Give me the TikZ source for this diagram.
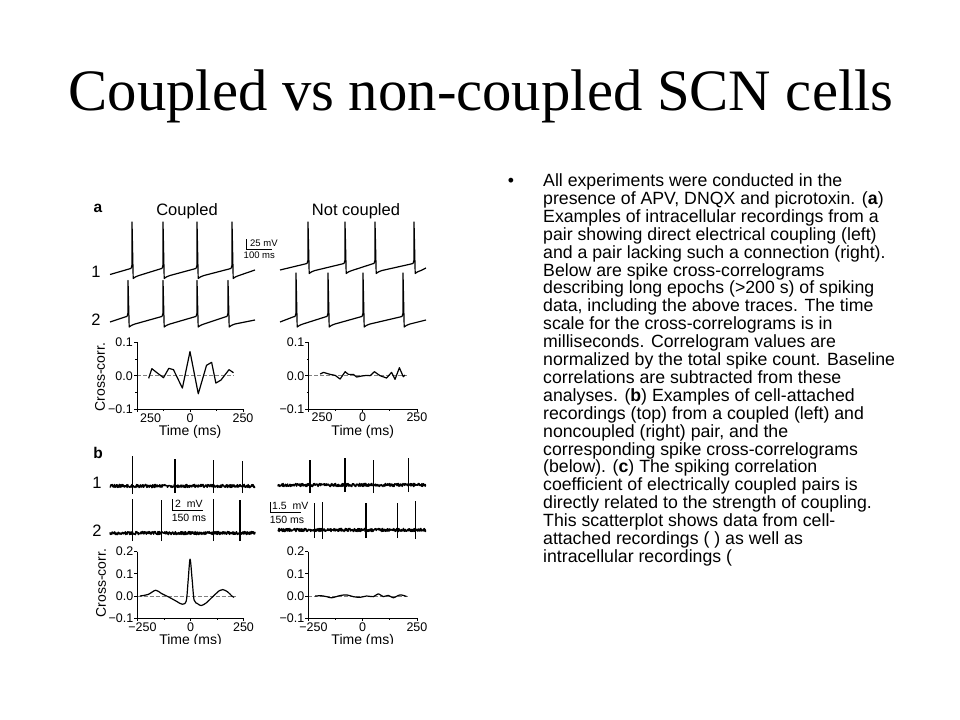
\documentclass[tikz,border=0pt]{standalone}
\usepackage{fontspec}
\setmainfont{Liberation Serif}
\setsansfont{Liberation Sans}
\usetikzlibrary{positioning}

\begin{document}
\begin{tikzpicture}[x=1bp,y=-1bp]
    \tikzstyle{every node}=[inner sep=0pt]
    \tikzstyle{trace}=[line width=1.2bp,line join=round]
    \tikzstyle{unit}=[line width=1.4bp,line join=round]
    \tikzstyle{axis}=[line width=0.8bp]
    \tikzstyle{zeroline}=[gray,line width=0.8bp,dash pattern=on 4bp off 2bp]
    \tikzstyle{figlab}=[font=\fontsize{16.5bp}{18bp}\sffamily]
    \tikzstyle{axlab}=[font=\fontsize{14bp}{16bp}\sffamily]
    \tikzstyle{ticklab}=[font=\fontsize{12.5bp}{14bp}\sffamily]
    \tikzstyle{barlab}=[font=\fontsize{9.5bp}{10bp}\sffamily]
    \tikzstyle{bodytext}=[font=\fontsize{17.7bp}{17.9bp}\sffamily]

    % one action potential: threshold, peak, after-hyperpolarisation
    \newcommand{\apspike}[4]{-- (#1-3,#2) .. controls (#1-1,#2) .. (#1,#2-4)
        -- (#1,#3) -- (#1+1.2,#4) .. controls (#1+3,#4-1.5) .. (#1+7,#4-3)}

    \fill[white] (0,0) rectangle (960,720);
    \useasboundingbox (0,0) rectangle (960,720);

    % Title
    \node [font=\fontsize{58.7bp}{60bp}\selectfont,anchor=base] at (481,111) (title)
        {Coupled vs non-coupled SCN cells};

    % Bullet text
    \node [bodytext,anchor=base] at (511,186.5) (bullet) {•};
    \node [bodytext,anchor=north west,align=left] at (543,173.5) (body)
        {All experiments were conducted in the\\
         presence of APV, DNQX and picrotoxin. (\textbf{a})\\
         Examples of intracellular recordings from a\\
         pair showing direct electrical coupling (left)\\
         and a pair lacking such a connection (right).\\
         Below are spike cross-correlograms\\
         describing long epochs (>200 s) of spiking\\
         data, including the above traces. The time\\
         scale for the cross-correlograms is in\\
         milliseconds. Correlogram values are\\
         normalized by the total spike count. Baseline\\
         correlations are subtracted from these\\
         analyses. (\textbf{b}) Examples of cell-attached\\
         recordings (top) from a coupled (left) and\\
         noncoupled (right) pair, and the\\
         corresponding spike cross-correlograms\\
         (below). (\textbf{c}) The spiking correlation\\
         coefficient of electrically coupled pairs is\\
         directly related to the strength of coupling.\\
         This scatterplot shows data from cell-\\
         attached recordings ( ) as well as\\
         intracellular recordings (};

    \begin{scope}
    \clip (88,190) rectangle (426,643);

    % Panel a: intracellular recordings
    \node [figlab,font=\fontsize{15.5bp}{17bp}\sffamily\bfseries] at (98,208) (lab-a) {a};
    \node [figlab] at (187,211) (head-coupled) {Coupled};
    \node [figlab] at (356,211) (head-notcoupled) {Not coupled};
    \node [figlab] at (96,272) (cell-a1) {1};
    \node [figlab] at (96,320) (cell-a2) {2};

    \draw[trace] (110,274.5) \apspike{132}{269}{222}{278.5} \apspike{163}{269}{222}{278.5}
        \apspike{197}{269}{222}{278.5} \apspike{232}{269}{222}{278.5} -- (255,270);
    \draw[trace] (110,322) \apspike{128}{317}{280.5}{327} \apspike{163}{317}{280.5}{327}
        \apspike{197}{317}{280.5}{327} \apspike{228}{317}{280.5}{327} -- (255,320);
    \draw[trace] (280,270) \apspike{308}{264}{222}{273.5} \apspike{345}{264}{222}{273.5}
        \apspike{375}{264}{222}{273.5} \apspike{414}{264}{222}{273.5} -- (426,268);
    \draw[trace] (280,322) \apspike{296}{317}{273}{327} \apspike{328}{317}{273}{327}
        \apspike{363}{317}{273}{327} \apspike{403}{317}{273}{327} -- (426,320);

    % scale bar
    \draw[axis] (246.7,239.3) -- (246.7,249.3) -- (271.7,249.3);
    \node [barlab,anchor=west] at (250,243) (bar-a-mv) {25 mV};
    \node [barlab] at (259.3,255.5) (bar-a-ms) {100 ms};

    % cross-correlograms (a)
    \node [axlab,rotate=90] at (100,377) (ylab-a) {Cross-corr.};
    \begin{scope}[shift={(190,375.7)},x=0.212bp,y=335bp]
        \draw[zeroline] (-250,0) -- (205,0);
        \draw[axis] (-250,0.1) -- (-250,-0.1) -- (250,-0.1)
            (-250,0.1) -- +(-3bp,0bp) (-250,0) -- +(-3bp,0bp) (-250,-0.1) -- +(-3bp,0bp)
            (-250,0.05) -- +(-1.5bp,0bp) (-250,-0.05) -- +(-1.5bp,0bp)
            (-250,-0.1) -- +(0bp,-3bp) (0,-0.1) -- +(0bp,-3bp) (250,-0.1) -- +(0bp,-3bp)
            (-125,-0.1) -- +(0bp,-1.5bp) (125,-0.1) -- +(0bp,-1.5bp);
        \draw[trace] plot coordinates {(-195,-0.008) (-180,0.021) (-156,0.009) (-125,-0.006)
            (-100,0.022) (-78,0.018) (-36,-0.037) (0,0.072) (39,-0.054) (78,0.031)
            (102,0.040) (122,-0.022) (146,-0.013) (184,0.018) (205,0.009)};
        \node [ticklab,anchor=east] at ([xshift=-4bp]-250,0.1) (ya1-top) {0.1};
        \node [ticklab,anchor=east] at ([xshift=-4bp]-250,0) (ya1-mid) {0.0};
        \node [ticklab,anchor=east] at ([xshift=-4bp]-250,-0.1) (ya1-bot) {−0.1};
        \node [ticklab,anchor=north west] at ([xshift=3bp,yshift=-4bp]-250,-0.1) (xa1-left) {250};
        \node [ticklab,anchor=north] at ([yshift=-4bp]0,-0.1) (xa1-mid) {0};
        \node [ticklab,anchor=north] at ([yshift=-4bp]250,-0.1) (xa1-right) {250};
        \node [axlab,below=2.5bp of xa1-mid] (time-a1) {Time (ms)};
    \end{scope}
    \begin{scope}[shift={(362.7,375.7)},x=0.217bp,y=333bp]
        \draw[zeroline] (-250,0) -- (205,0);
        \draw[axis] (-250,0.1) -- (-250,-0.1) -- (250,-0.1)
            (-250,0.1) -- +(-3bp,0bp) (-250,0) -- +(-3bp,0bp) (-250,-0.1) -- +(-3bp,0bp)
            (-250,0.05) -- +(-1.5bp,0bp) (-250,-0.05) -- +(-1.5bp,0bp)
            (-250,-0.1) -- +(0bp,-3bp) (0,-0.1) -- +(0bp,-3bp) (250,-0.1) -- +(0bp,-3bp)
            (-125,-0.1) -- +(0bp,-1.5bp) (125,-0.1) -- +(0bp,-1.5bp);
        \draw[trace] plot coordinates {(-196,0.005) (-181,0.010) (-150,0.004) (-127,0.001)
            (-104,-0.010) (-81,0.012) (-66,0.004) (-43,0.004) (-28,-0.004) (-5,-0.001)
            (18,0.001) (34,0) (54,0.012) (80,0) (110,-0.007) (133,0.010) (149,-0.011)
            (169,0.024) (179,0.009) (187,-0.003) (195,0.002)};
        \node [ticklab,anchor=east] at ([xshift=-4bp]-250,0.1) (ya2-top) {0.1};
        \node [ticklab,anchor=east] at ([xshift=-4bp]-250,0) (ya2-mid) {0.0};
        \node [ticklab,anchor=east] at ([xshift=-4bp]-250,-0.1) (ya2-bot) {−0.1};
        \node [ticklab,anchor=north west] at ([xshift=3bp,yshift=-4bp]-250,-0.1) (xa2-left) {250};
        \node [ticklab,anchor=north] at ([yshift=-4bp]0,-0.1) (xa2-mid) {0};
        \node [ticklab,anchor=north] at ([yshift=-4bp]250,-0.1) (xa2-right) {250};
        \node [axlab,below=2.5bp of xa2-mid] (time-a2) {Time (ms)};
    \end{scope}

    % Panel b: cell-attached recordings
    \node [figlab,font=\fontsize{15.5bp}{17bp}\sffamily\bfseries] at (98,453) (lab-b) {b};
    \node [figlab] at (97,483) (cell-b1) {1};
    \node [figlab] at (97,531) (cell-b2) {2};

    \pgfmathsetseed{3}
    \draw[unit] plot[domain=110:255,samples=400] (\x,{486+1.6*rand});
    \draw[unit] (132.7,494) -- (132.7,456) (175,493) -- (175,459)
        (213.3,493) -- (213.3,460) (242.7,493) -- (242.7,460.5);
    \draw[unit] plot[domain=110:255,samples=400] (\x,{533+1.6*rand});
    \draw[unit] (132.7,541) -- (132.7,499) (161.7,541) -- (161.7,500)
        (213.3,541) -- (213.3,499) (240,541) -- (240,500);
    \draw[unit] plot[domain=278:426,samples=400] (\x,{485+1.6*rand});
    \draw[unit] (310,493) -- (310,460) (345,492) -- (345,458)
        (373.3,493) -- (373.3,460) (408.3,492) -- (408.3,458);
    \draw[unit] plot[domain=278:426,samples=400] (\x,{530+1.6*rand});
    \draw[unit] (314.3,538) -- (314.3,503) (322.7,539) -- (322.7,502) (366,538) -- (366,503)
        (397.7,538) -- (397.7,503) (415.3,539) -- (415.3,501);

    % scale bars
    \draw[axis] (172.7,499) -- (172.7,510) -- (203.3,510);
    \node [barlab,font=\fontsize{10.5bp}{11bp}\sffamily,anchor=west] at (175,503.5) (bar-b1-mv) {2\ \ mV};
    \node [barlab,font=\fontsize{10.5bp}{11bp}\sffamily] at (189,517.5) (bar-b1-ms) {150 ms};
    \draw[axis] (270,502) -- (270,512) -- (300.7,512);
    \node [barlab,font=\fontsize{10.5bp}{11bp}\sffamily,anchor=west] at (272,506) (bar-b2-mv) {1.5\ \ mV};
    \node [barlab,font=\fontsize{10.5bp}{11bp}\sffamily] at (287,519.5) (bar-b2-ms) {150 ms};

    % cross-correlograms (b)
    \node [axlab,rotate=90] at (101,583) (ylab-b) {Cross-corr.};
    \begin{scope}[shift={(190.5,596)},x=0.212bp,y=222bp]
        \draw[zeroline] (-250,0) -- (215,0);
        \draw[axis] (-250,0.2) -- (-250,-0.1) -- (250,-0.1)
            (-250,0.2) -- +(-3bp,0bp) (-250,0.1) -- +(-3bp,0bp) (-250,0) -- +(-3bp,0bp)
            (-250,-0.1) -- +(-3bp,0bp)
            (-250,-0.1) -- +(0bp,-3bp) (0,-0.1) -- +(0bp,-3bp) (250,-0.1) -- +(0bp,-3bp)
            (-125,-0.1) -- +(0bp,-1.5bp) (125,-0.1) -- +(0bp,-1.5bp);
        \draw[trace] plot[smooth,tension=0.5] coordinates {(-239,0) (-200,0.007) (-164,0.026)
            (-138,0.012) (-98,-0.007) (-64,-0.025) (-39,-0.037) (-20,-0.022) (-11,0.071)
            (-2,0.166) (8,0.071) (17,-0.018) (34,-0.035) (50,-0.043) (73,-0.032)
            (105,-0.003) (136,0.024) (152,0.029) (175,0.019) (195,0) (206,-0.006)};
        \node [ticklab,anchor=east] at ([xshift=-4bp]-250,0.2) (yb1-top) {0.2};
        \node [ticklab,anchor=east] at ([xshift=-4bp]-250,0.1) (yb1-up) {0.1};
        \node [ticklab,anchor=east] at ([xshift=-4bp]-250,0) (yb1-mid) {0.0};
        \node [ticklab,anchor=east] at ([xshift=-4bp]-250,-0.1) (yb1-bot) {−0.1};
        \node [ticklab,anchor=north] at ([xshift=5bp,yshift=-4bp]-250,-0.1) (xb1-left) {−250};
        \node [ticklab,anchor=north] at ([yshift=-4bp]0,-0.1) (xb1-mid) {0};
        \node [ticklab,anchor=north] at ([yshift=-4bp]250,-0.1) (xb1-right) {250};
        \node [axlab,below=3bp of xb1-mid] (time-b1) {Time (ms)};
    \end{scope}
    \begin{scope}[shift={(362.7,596)},x=0.217bp,y=222bp]
        \draw[zeroline] (-250,0) -- (215,0);
        \draw[axis] (-250,0.2) -- (-250,-0.1) -- (250,-0.1)
            (-250,0.2) -- +(-3bp,0bp) (-250,0.1) -- +(-3bp,0bp) (-250,0) -- +(-3bp,0bp)
            (-250,-0.1) -- +(-3bp,0bp)
            (-250,-0.1) -- +(0bp,-3bp) (0,-0.1) -- +(0bp,-3bp) (250,-0.1) -- +(0bp,-3bp)
            (-125,-0.1) -- +(0bp,-1.5bp) (125,-0.1) -- +(0bp,-1.5bp);
        \draw[trace] plot[smooth] coordinates {(-219,0) (-190,0.001) (-166,-0.003) (-143,-0.008)
            (-104,0.002) (-74,0.005) (-43,-0.003) (-12,-0.006) (18,0) (49,-0.003)
            (72,0.010) (95,-0.003) (118,0.003) (141,-0.008) (172,0.005) (202,-0.002)};
        \node [ticklab,anchor=east] at ([xshift=-4bp]-250,0.2) (yb2-top) {0.2};
        \node [ticklab,anchor=east] at ([xshift=-4bp]-250,0.1) (yb2-up) {0.1};
        \node [ticklab,anchor=east] at ([xshift=-4bp]-250,0) (yb2-mid) {0.0};
        \node [ticklab,anchor=east] at ([xshift=-4bp]-250,-0.1) (yb2-bot) {−0.1};
        \node [ticklab,anchor=north] at ([xshift=5bp,yshift=-4bp]-250,-0.1) (xb2-left) {−250};
        \node [ticklab,anchor=north] at ([yshift=-4bp]0,-0.1) (xb2-mid) {0};
        \node [ticklab,anchor=north] at ([yshift=-4bp]250,-0.1) (xb2-right) {250};
        \node [axlab,below=3bp of xb2-mid] (time-b2) {Time (ms)};
    \end{scope}
    \end{scope}
\end{tikzpicture}
\end{document}
